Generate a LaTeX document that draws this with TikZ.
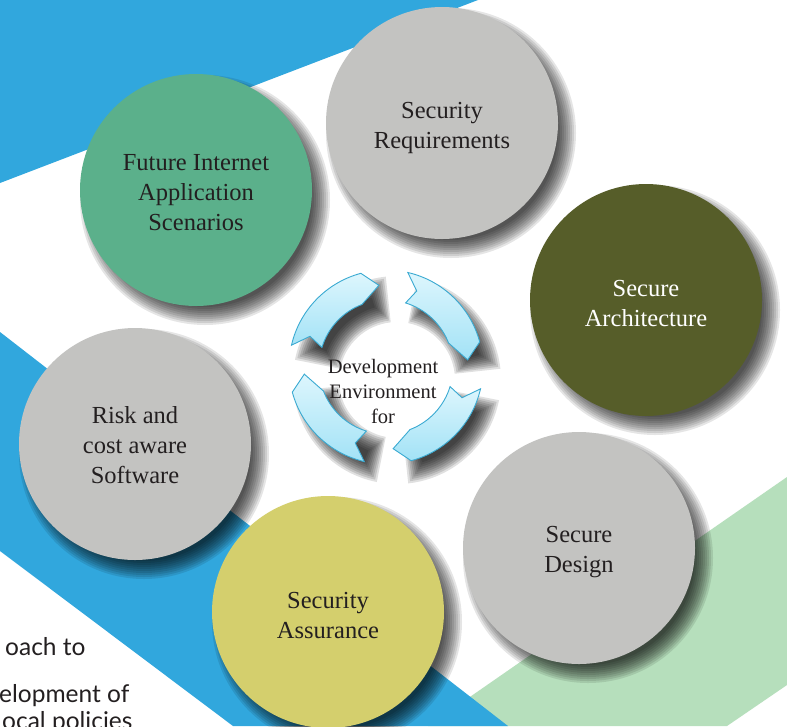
\documentclass[tikz,border=0pt]{standalone}
\usepackage{fontspec}
\setmainfont{Liberation Serif}
\newfontfamily\sidefont{Lato}
\usetikzlibrary{calc}
\definecolor{bgblue}{HTML}{31A7DD}
\definecolor{bggreen}{HTML}{B6DFBC}
\definecolor{cgreen}{HTML}{5BB08B}
\definecolor{cgray}{HTML}{C3C3C1}
\definecolor{colive}{HTML}{565D29}
\definecolor{cyellow}{HTML}{D4CF6D}
\definecolor{txt}{HTML}{231F20}
\definecolor{arrline}{HTML}{3AAAD2}
\definecolor{arrtop}{HTML}{DDF6FD}
\definecolor{arrbot}{HTML}{A2E2F6}
\tikzset{
  bubble/.style={circle, minimum size=232pt, inner sep=0pt},
  bubbletext/.style={align=center, text=txt, inner sep=0pt,
     font=\fontsize{24.5}{30}\selectfont},
  centertext/.style={align=center, text=txt, font=\fontsize{20.5}{25}\selectfont},
  sidetext/.style={anchor=base west, text=txt, inner sep=0pt,
     font=\sidefont\fontsize{24.5}{28}\selectfont},
  cycarrow/.style={draw=arrline, line width=0.9pt, top color=arrtop, bottom color=arrbot,
     line join=miter},
  shadowlayer/.style={fill=black, fill opacity=0.1},
  arrshadowlayer/.style={fill=black, fill opacity=0.12},
}
\newcommand{\bubbleshadow}[2]{%
  \foreach \e in {-9,-7,...,9}{
    \pgfmathsetmacro{\rr}{116+\e}
    \fill[shadowlayer] (#1+9,-#2-10) circle[radius=\rr];
  }%
}
\newcommand{\arrowshadow}[2]{%
  \foreach \e in {-10,-8,...,8}{
    \pgfmathsetmacro{\sa}{#1-3+0.6*(\e)}
    \pgfmathsetmacro{\ea}{#2+6-0.6*(\e)}
    \pgfmathsetmacro{\ro}{96+\e}
    \pgfmathsetmacro{\ri}{66-\e}
    \fill[arrshadowlayer] (\sa:\ro) arc[start angle=\sa, end angle=\ea, radius=\ro]
      -- (\ea:\ri) arc[start angle=\ea, end angle=\sa, radius=\ri] -- cycle;
  }%
}
\newcommand{\cyclearrow}[2]{%
  \pgfmathsetmacro{\ta}{#1}
  \pgfmathsetmacro{\tb}{#1-4}
  \pgfmathsetmacro{\tn}{#1-9}
  \pgfmathsetmacro{\ha}{#2+10}
  \pgfmathsetmacro{\hb}{#2+16}
  \pgfmathsetmacro{\hn}{#2}
  \draw[cycarrow] (\ta:97) arc[start angle=\ta, end angle=\ha, radius=97]
     -- (\hn:82) -- (\hb:67) arc[start angle=\hb, end angle=\tb, radius=67]
     -- (\tn:82) -- cycle;
}
\begin{document}
\begin{tikzpicture}[x=1pt,y=1pt]
\useasboundingbox (0,0) rectangle (787,-726);
\clip (0,0) rectangle (787,-726);
\fill[white] (0,0) rectangle (787,-726);
% background bands
\fill[bggreen] (428,-726) -- (787,-477) -- (787,-685) -- (727,-726) -- cycle;
\fill[bgblue] (0,0) -- (478,0) -- (0,-183) -- cycle;
\fill[bgblue] (0,-332) -- (508,-726) -- (233,-726) -- (0,-551) -- cycle;
% side text
\node[sidetext] (s1) at (5,-655) {oach to};
\node[sidetext] (s2) at (-1,-702) {elopment of};
\node[sidetext] (s3) at (2,-729) {ocal policies};
% shadows
\bubbleshadow{196}{190}
\bubbleshadow{442}{123}
\bubbleshadow{646}{300}
\bubbleshadow{579}{548}
\bubbleshadow{328}{612}
\bubbleshadow{135}{444}
\begin{scope}[shift={(397,-380)}]
  \arrowshadow{77}{5}
  \arrowshadow{-13}{-85}
  \arrowshadow{-103}{-175}
  \arrowshadow{167}{95}
\end{scope}
% bubbles
\node[bubble, fill=cgreen] (fi) at (196,-190) {};
\node[bubble, fill=cgray] (sr) at (442,-123) {};
\node[bubble, fill=colive] (sa) at (646,-300) {};
\node[bubble, fill=cgray] (sd) at (579,-548) {};
\node[bubble, fill=cyellow] (as) at (328,-612) {};
\node[bubble, fill=cgray] (rc) at (135,-444) {};
\node[bubbletext] (fit) at ($(fi)+(0,-2.5)$) {Future Internet\\Application\\Scenarios};
\node[bubbletext] (srt) at ($(sr)+(0,-4.5)$) {Security\\Requirements};
\node[bubbletext, text=white] (sat) at ($(sa)+(0,-3.5)$) {Secure\\Architecture};
\node[bubbletext] (sdt) at ($(sd)+(0,-4.5)$) {Secure\\Design};
\node[bubbletext] (ast) at ($(as)+(0,-3.5)$) {Security\\Assurance};
\node[bubbletext] (rct) at ($(rc)+(0,-1.5)$) {Risk and\\cost aware\\Software};
% cycle arrows
\begin{scope}[shift={(386,-367)}]
  \cyclearrow{77}{5}
  \cyclearrow{-13}{-85}
  \cyclearrow{-103}{-175}
  \cyclearrow{167}{95}
\end{scope}
\node[centertext] (dev) at (383,-391) {Development\\Environment\\for};
\end{tikzpicture}
\end{document}
